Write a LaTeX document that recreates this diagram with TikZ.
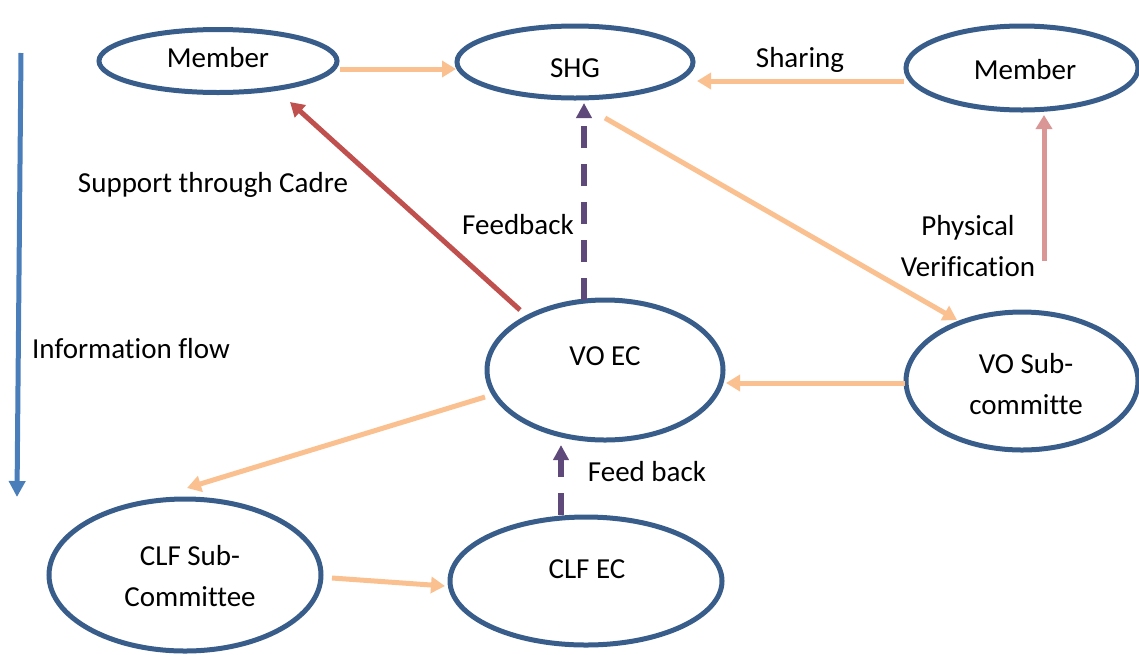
\documentclass[tikz,border=0pt]{standalone}
\usepackage{fontspec}
\setmainfont[Ligatures=NoCommon]{Carlito}
\usetikzlibrary{arrows.meta,calc,shapes.geometric}
\definecolor{ringblue}{HTML}{385D8A}
\definecolor{peach}{HTML}{FAC090}
\definecolor{brick}{HTML}{C0504D}
\definecolor{plum}{HTML}{5F497A}
\definecolor{rose}{HTML}{D99694}
\definecolor{skyblue}{HTML}{4A7EBB}
\begin{document}
\begin{tikzpicture}[x=1pt,y=-1pt,
  stage/.style={ellipse, draw=ringblue, line width=5pt, inner sep=0pt, outer sep=0pt, fill=white},
  txt/.style={font=\fontsize{29}{41}\selectfont, inner sep=0pt, align=center},
  flow/.style={line width=5pt, -{Triangle[length=14pt,width=16pt]}},
  orangeflow/.style={flow, draw=peach, -{Triangle[length=14pt,width=16pt,fill=peach]}},
  redflow/.style={flow, draw=brick},
  pinkflow/.style={flow, draw=rose},
  feedflow/.style={flow, draw=plum, line width=6pt, dash pattern=on 22pt off 16pt},
  infoflow/.style={flow, draw=skyblue}]
\useasboundingbox (0,0) rectangle (1139,654);

% stages
\node[stage, minimum width=238pt, minimum height=63pt]  (mem1)   at (218,61)  {};
\node[stage, minimum width=236pt, minimum height=72pt]  (shg)    at (575,62)  {};
\node[stage, minimum width=232pt, minimum height=84pt]  (mem2)   at (1022,68) {};
\node[stage, minimum width=236pt, minimum height=140pt] (voec)   at (605,370) {};
\node[stage, minimum width=232pt, minimum height=138pt] (vosub)  at (1022,381) {};
\node[stage, minimum width=272pt, minimum height=152pt] (clfsub) at (185,575) {};
\node[stage, minimum width=272pt, minimum height=128pt] (clfec)  at (586,581) {};

% stage captions
\node[txt] (tmem1)   at (218,58)  {Member};
\node[txt] (tshg)    at (575,68)  {SHG};
\node[txt] (tmem2)   at (1025,70) {Member};
\node[txt] (tvoec)   at (605,356) {VO EC};
\node[txt] (tvosub)  at (1026,384) {VO Sub-\\committe};
\node[txt] (tclfsub) at (190,576) {CLF Sub-\\Committee};
\node[txt] (tclfec)  at (587,569) {CLF EC};

% connectors
\draw[orangeflow] ($(mem1.center)+(122,8)$) -- ($(shg.center)+(-119,7)$);
\draw[orangeflow] ($(mem2.center)+(-118,13)$) -- ($(shg.center)+(122,19)$);
\draw[orangeflow] ($(shg.center)+(30,56)$) -- ($(vosub.center)+(-65,-61)$);
\draw[redflow] ($(voec.center)+(-85,-60)$) -- ($(mem1.center)+(72,41)$);
\draw[feedflow, -{Triangle[length=15pt,width=15pt,fill=plum]}] ($(voec.center)+(-21,-70)$) -- ($(shg.center)+(9,41)$);
\draw[pinkflow] ($(vosub.center)+(22,-120)$) -- ($(mem2.center)+(22,47)$);
\draw[orangeflow] ($(vosub.center)+(-117,2)$) -- ($(voec.center)+(121,13)$);
\draw[orangeflow] ($(voec.center)+(-120,27)$) -- ($(clfsub.center)+(2,-87)$);
\draw[feedflow, -{Triangle[length=15pt,width=15pt,fill=plum]}] ($(clfec.center)+(-25,-66)$) -- ($(voec.center)+(-44,75)$);
\draw[orangeflow] ($(clfsub.center)+(147,3)$) -- ($(clfec.center)+(-141,5)$);

% information flow direction
\coordinate (flowtop) at (21,53);
\coordinate (flowbottom) at (17,497);
\draw[infoflow, -{Triangle[length=16pt,width=16pt]}] (flowtop) -- (flowbottom);

% labels
\node[txt] (lsharing)  at (800,60)  {Sharing};
\node[txt] (lcadre)    at (213,185) {Support through Cadre};
\node[txt] (lfeedback) at (518,225) {Feedback};
\node[txt] (lphysical) at (968,246) {Physical\\Verification};
\node[txt] (linfo)     at (131,349) {Information flow};
\node[txt] (lfeedback2) at (647,472) {Feed back};
\end{tikzpicture}
\end{document}
